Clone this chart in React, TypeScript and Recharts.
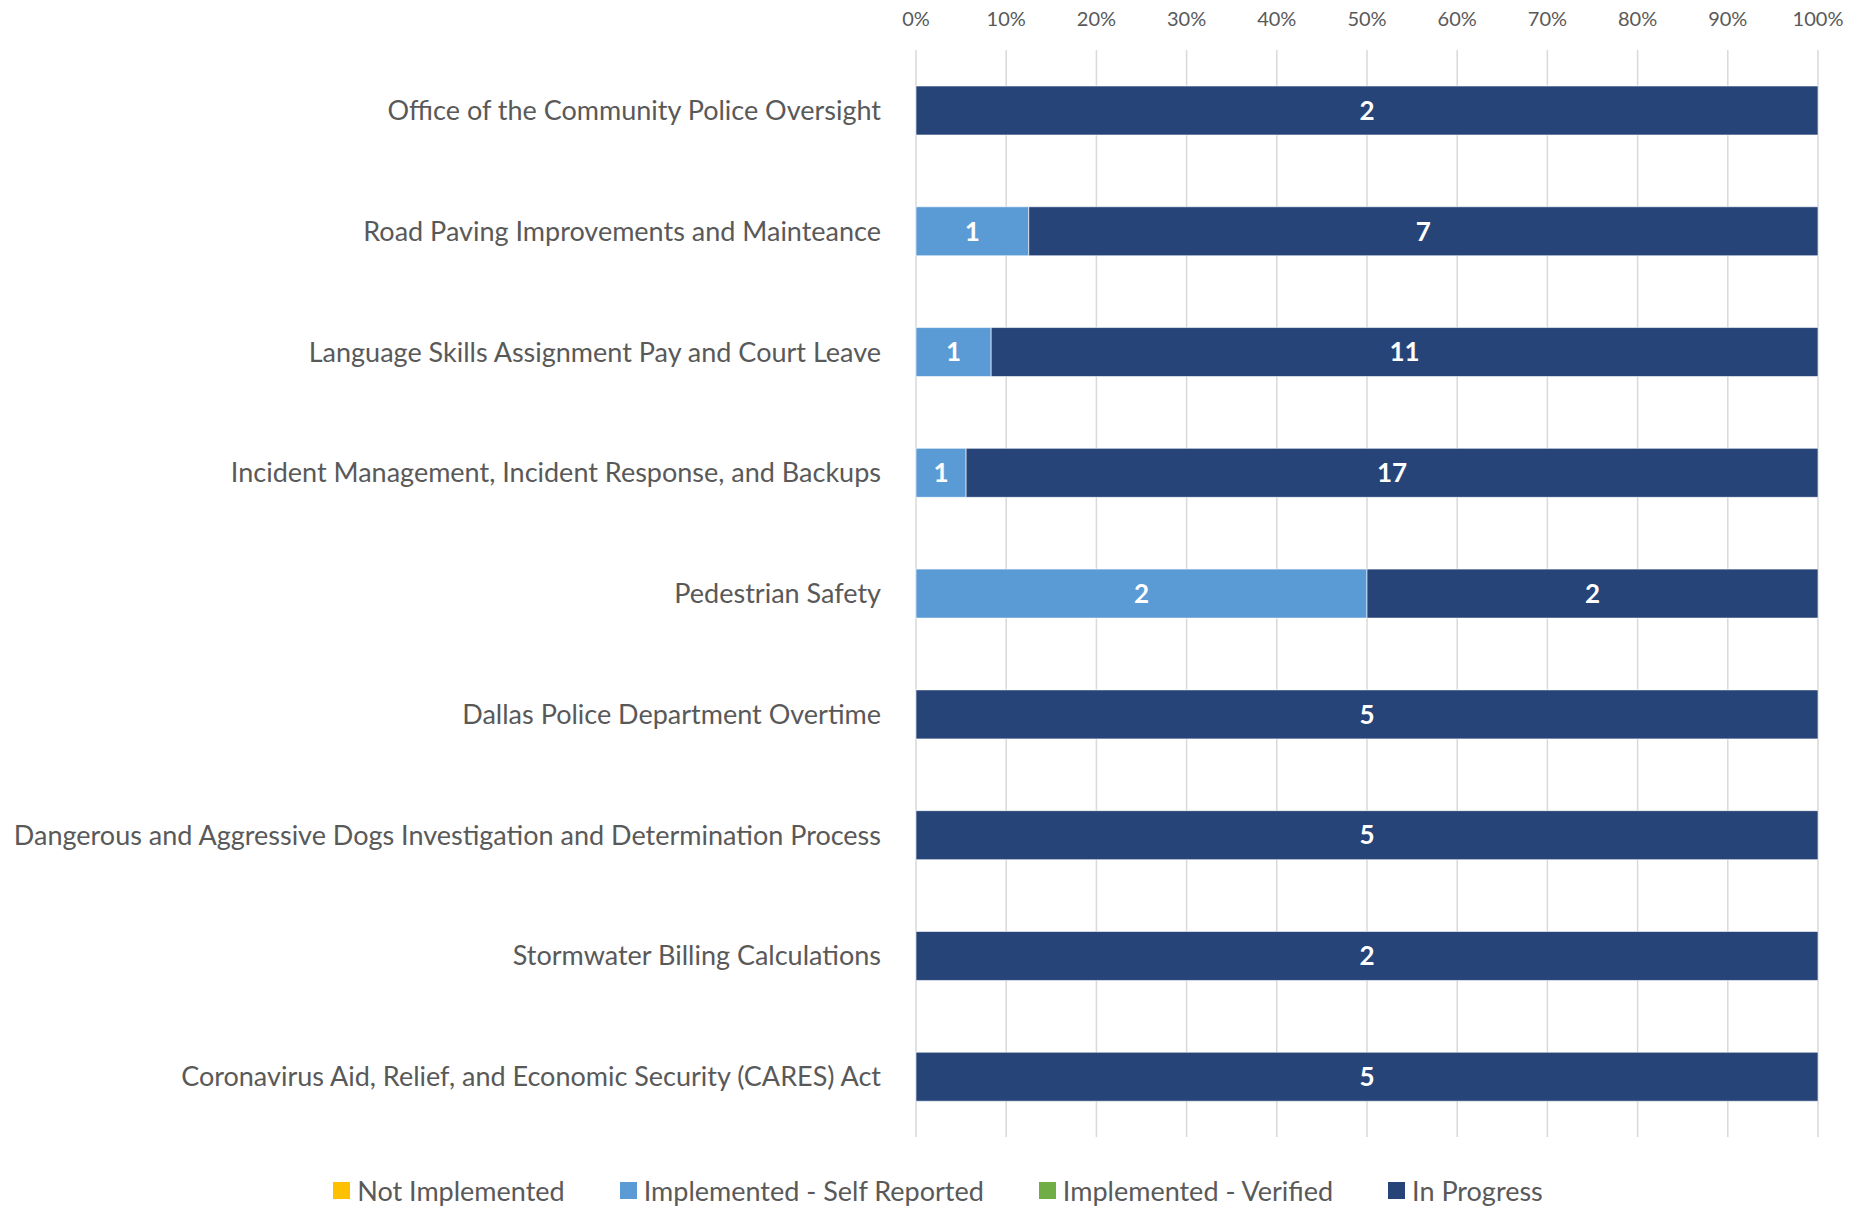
import React from 'react';
import { Bar, BarChart, CartesianGrid, LabelList, XAxis, YAxis } from 'recharts';

const categories = [
  'Office of the Community Police Oversight',
  'Road Paving Improvements and Mainteance',
  'Language Skills Assignment Pay and Court Leave',
  'Incident Management, Incident Response, and Backups',
  'Pedestrian Safety',
  'Dallas Police Department Overtime',
  'Dangerous and Aggressive Dogs Investigation and Determination Process',
  'Stormwater Billing Calculations',
  'Coronavirus Aid, Relief, and Economic Security (CARES) Act',
];

const notImplemented = [0, 0, 0, 0, 0, 0, 0, 0, 0];
const selfReported = [0, 1, 1, 1, 2, 0, 0, 0, 0];
const verified = [0, 0, 0, 0, 0, 0, 0, 0, 0];
const inProgress = [2, 7, 11, 17, 2, 5, 5, 2, 5];

const percentTicks = [0, 0.1, 0.2, 0.3, 0.4, 0.5, 0.6, 0.7, 0.8, 0.9, 1];

const series = [
  { key: 'notImplemented', name: 'Not Implemented', color: '#FFC000' },
  { key: 'selfReported', name: 'Implemented - Self Reported', color: '#5B9BD5' },
  { key: 'verified', name: 'Implemented - Verified', color: '#70AD47' },
  { key: 'inProgress', name: 'In Progress', color: '#264478' },
];

const data = categories.map((name, i) => ({
  name,
  notImplemented: notImplemented[i],
  selfReported: selfReported[i],
  verified: verified[i],
  inProgress: inProgress[i],
}));

const FONT = 'Lato, "Open Sans", sans-serif';

// legend drawn under the plot, outside the chart so it doesn't eat plot height
function LegendBox() {
  return (
    <div
      style={{
        position: 'absolute',
        left: 0,
        width: 1862,
        top: 1174,
        display: 'flex',
        justifyContent: 'center',
        gap: 55,
        fontFamily: FONT,
        fontSize: 27,
        color: '#595959',
        paddingLeft: 14,
        boxSizing: 'border-box',
      }}
    >
      {series.map((s) => (
        <div key={s.key} style={{ display: 'flex', alignItems: 'center' }}>
          <span style={{ display: 'inline-block', width: 17, height: 17, background: s.color, marginRight: 7 }} />
          <span>{s.name}</span>
        </div>
      ))}
    </div>
  );
}

const hideZero = (v: any) => (v ? v : '');

export default function App() {
  return (
    <div style={{ position: 'relative', width: 1862, height: 1206, background: '#fff' }}>
      <style>{'body{margin:0}'}</style>
      <BarChart
        width={1862}
        height={1206}
        data={data}
        layout="vertical"
        stackOffset="expand"
        margin={{ top: 20, right: 44, bottom: 69, left: 0 }}
      >
        <CartesianGrid horizontal={false} stroke="#d9d9d9" strokeWidth={1.5} />
        <XAxis
          type="number"
          orientation="top"
          domain={[0, 1]}
          ticks={percentTicks}
          tickFormatter={(v) => `${Math.round(v * 100)}%`}
          axisLine={false}
          tickLine={false}
          height={30}
          tick={{ fill: '#595959', fontSize: 20, fontFamily: FONT }}
          tickMargin={18}
          interval={0}
        />
        <YAxis
          type="category"
          dataKey="name"
          width={916}
          axisLine={false}
          tickLine={false}
          tickSize={0}
          tickMargin={35}
          interval={0}
          tick={{ fill: '#595959', fontSize: 27, fontFamily: FONT }}
        />
        {series.map((s) => (
          <Bar
            key={s.key}
            dataKey={s.key}
            name={s.name}
            stackId="a"
            fill={s.color}
            barSize={49}
            stroke="#ffffff"
            strokeWidth={0.6}
            isAnimationActive={false}
          >
            <LabelList
              dataKey={s.key}
              position="center"
              formatter={hideZero}
              style={{ fill: '#ffffff', fontSize: 26, fontWeight: 700, fontFamily: FONT }}
            />
          </Bar>
        ))}
      </BarChart>
      <LegendBox />
    </div>
  );
}
